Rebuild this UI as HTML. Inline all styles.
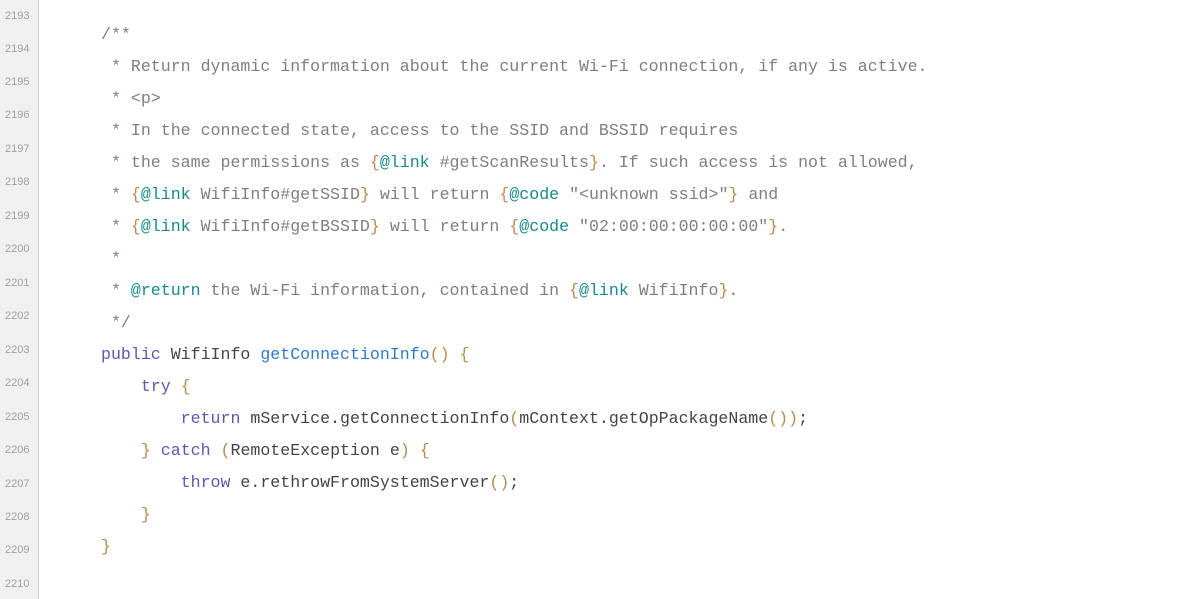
<!DOCTYPE html>
<html><head><meta charset="utf-8"><style>
body{margin:0;width:1184px;height:599px;background:#fff;overflow:hidden;position:relative;font-family:"Liberation Mono","Noto Sans CJK SC",monospace}
#g{position:absolute;left:0;top:0;width:38px;height:599px;background:#f0f0f0;border-right:1px solid #d0d0d0}
.n{position:absolute;left:5px;font-size:11px;color:#a0a0a0;line-height:12px;font-family:"Liberation Sans",sans-serif}
.l{position:absolute;left:101px;font-size:16.6px;line-height:20px;white-space:pre;color:#444}
.c{color:#857c7c}.b{color:#b88a50}.t{color:#178a8a}.k{color:#5a5aae}.m{color:#2f7bcc}
</style></head><body>
<div id="g"></div>
<div class="n" style="top:10px">2193</div><div class="n" style="top:43px">2194</div><div class="n" style="top:76px">2195</div><div class="n" style="top:109px">2196</div><div class="n" style="top:143px">2197</div><div class="n" style="top:176px">2198</div><div class="n" style="top:210px">2199</div><div class="n" style="top:243px">2200</div><div class="n" style="top:277px">2201</div><div class="n" style="top:310px">2202</div><div class="n" style="top:344px">2203</div><div class="n" style="top:377px">2204</div><div class="n" style="top:411px">2205</div><div class="n" style="top:444px">2206</div><div class="n" style="top:478px">2207</div><div class="n" style="top:511px">2208</div><div class="n" style="top:544px">2209</div><div class="n" style="top:578px">2210</div>
<div class="l c" style="top:25px">/**</div>
<div class="l c" style="top:57px"> * Return dynamic information about the current Wi-Fi connection, if any is active.</div>
<div class="l c" style="top:89px"> * &lt;p&gt;</div>
<div class="l c" style="top:121px"> * In the connected state, access to the SSID and BSSID requires</div>
<div class="l c" style="top:153px"> * the same permissions as <span class="b">{</span><span class="t">@link</span> #getScanResults<span class="b">}</span>. If such access is not allowed,</div>
<div class="l c" style="top:185px"> * <span class="b">{</span><span class="t">@link</span> WifiInfo#getSSID<span class="b">}</span> will return <span class="b">{</span><span class="t">@code</span> "&lt;unknown ssid&gt;"<span class="b">}</span> and</div>
<div class="l c" style="top:217px"> * <span class="b">{</span><span class="t">@link</span> WifiInfo#getBSSID<span class="b">}</span> will return <span class="b">{</span><span class="t">@code</span> "02:00:00:00:00:00"<span class="b">}</span>.</div>
<div class="l c" style="top:249px"> *</div>
<div class="l c" style="top:281px"> * <span class="t">@return</span> the Wi-Fi information, contained in <span class="b">{</span><span class="t">@link</span> WifiInfo<span class="b">}</span>.</div>
<div class="l c" style="top:313px"> */</div>
<div class="l" style="top:345px"><span class="k">public</span> WifiInfo <span class="m">getConnectionInfo</span><span class="b">()</span> <span class="b">{</span></div>
<div class="l" style="top:377px">    <span class="k">try</span> <span class="b">{</span></div>
<div class="l" style="top:409px">        <span class="k">return</span> mService.getConnectionInfo<span class="b">(</span>mContext.getOpPackageName<span class="b">())</span>;</div>
<div class="l" style="top:441px">    <span class="b">}</span> <span class="k">catch</span> <span class="b">(</span>RemoteException e<span class="b">)</span> <span class="b">{</span></div>
<div class="l" style="top:473px">        <span class="k">throw</span> e.rethrowFromSystemServer<span class="b">()</span>;</div>
<div class="l" style="top:505px">    <span class="b">}</span></div>
<div class="l" style="top:537px"><span class="b">}</span></div>
</body></html>
